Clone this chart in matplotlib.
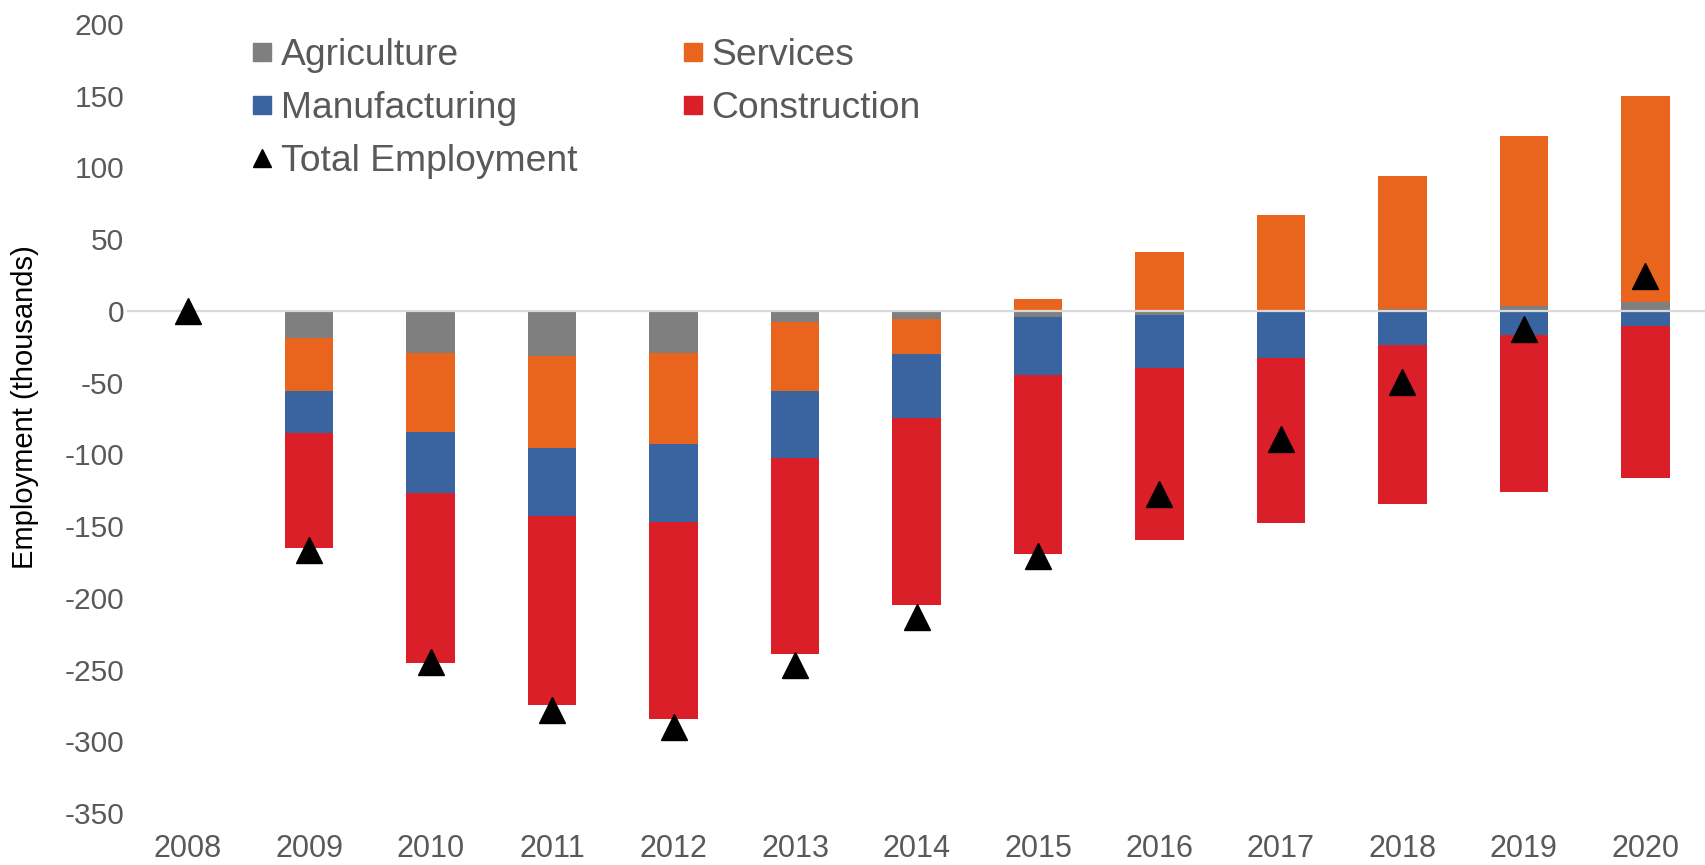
import numpy as np
import matplotlib
matplotlib.use("Agg")
import matplotlib.pyplot as plt
from matplotlib.lines import Line2D

years = ['2008', '2009', '2010', '2011', '2012', '2013', '2014',
         '2015', '2016', '2017', '2018', '2019', '2020']

# employment change by sector (thousands)
agriculture = [0, -19, -29.5, -31.5, -29, -7.5, -5.5, -4, -3, 0, 1, 3.5, 6.5]
services = [0, -37, -55, -64, -64, -48, -24.5, 8, 41, 67, 93, 118.5, 143]
manufacturing = [0, -29, -42.5, -47.3, -54, -46.7, -44.6, -41, -37, -33, -23.7, -16.7, -10.7]
construction = [0, -80.5, -118.5, -131.6, -137.2, -137.1, -130.2, -124.7, -120, -114.7, -111, -109.3, -106]
total_employment = [0, -167, -245, -278, -290, -246.5, -213.5, -171, -127.5, -89, -49.5, -12.5, 24.5]

sectors = [('Agriculture', agriculture, '#7F7F7F'),
           ('Services', services, '#E9651E'),
           ('Manufacturing', manufacturing, '#3A64A0'),
           ('Construction', construction, '#DA1F28')]

plt.rcParams['font.family'] = ['Liberation Sans', 'DejaVu Sans']
plt.rcParams['axes.unicode_minus'] = False

fig = plt.figure(figsize=(17.06, 8.65), dpi=100)
ax = fig.add_axes([127 / 1706, 1 - 813 / 865, (1706 - 127) / 1706, (813 - 24) / 865])

x = np.arange(len(years))
pos_base = np.zeros(len(years))
neg_base = np.zeros(len(years))
for name, vals, color in sectors:
    vals = np.array(vals, dtype=float)
    bottom = np.where(vals >= 0, pos_base, neg_base)
    ax.bar(x, vals, 0.4, bottom=bottom, color=color, zorder=2)
    pos_base += np.where(vals >= 0, vals, 0)
    neg_base += np.where(vals < 0, vals, 0)

ax.axhline(0, color='#D9D9D9', linewidth=1.6, zorder=3)
ax.plot(x, total_employment, linestyle='none', marker='^', markersize=18.5,
        color='black', zorder=4)

ax.set_xlim(-0.5, len(years) - 0.5)
ax.set_ylim(-350, 200)
ax.set_yticks(np.arange(-350, 201, 50))
ax.set_xticks(x)
ax.set_xticklabels(years)
for s in ax.spines.values():
    s.set_visible(False)
ax.tick_params(axis='both', length=0, labelcolor='#595959')
ax.tick_params(axis='y', labelsize=21.5, pad=2)
ax.tick_params(axis='x', labelsize=22, pad=15)

ax.set_ylabel('Employment (thousands)', fontsize=21, color='black')
ax.yaxis.set_label_coords(-0.056, 0.515)

handles = [
    Line2D([], [], linestyle='none', marker='s', markersize=13, color='#7F7F7F'),
    Line2D([], [], linestyle='none', marker='s', markersize=13, color='#3A64A0'),
    Line2D([], [], linestyle='none', marker='^', markersize=13, color='black'),
    Line2D([], [], linestyle='none', marker='s', markersize=13, color='#E9651E'),
    Line2D([], [], linestyle='none', marker='s', markersize=13, color='#DA1F28'),
]
labels = ['Agriculture', 'Manufacturing', 'Total Employment', 'Services', 'Construction']
leg = ax.legend(handles, labels, ncol=2, loc='upper left',
                bbox_to_anchor=(0.062, 1.015), frameon=False, fontsize=26.8,
                handlelength=0.6, handletextpad=0.2, columnspacing=2.8,
                labelspacing=0.48, borderpad=0.2)
for t in leg.get_texts():
    t.set_color('#595959')

fig.savefig('out.png', dpi=100)
